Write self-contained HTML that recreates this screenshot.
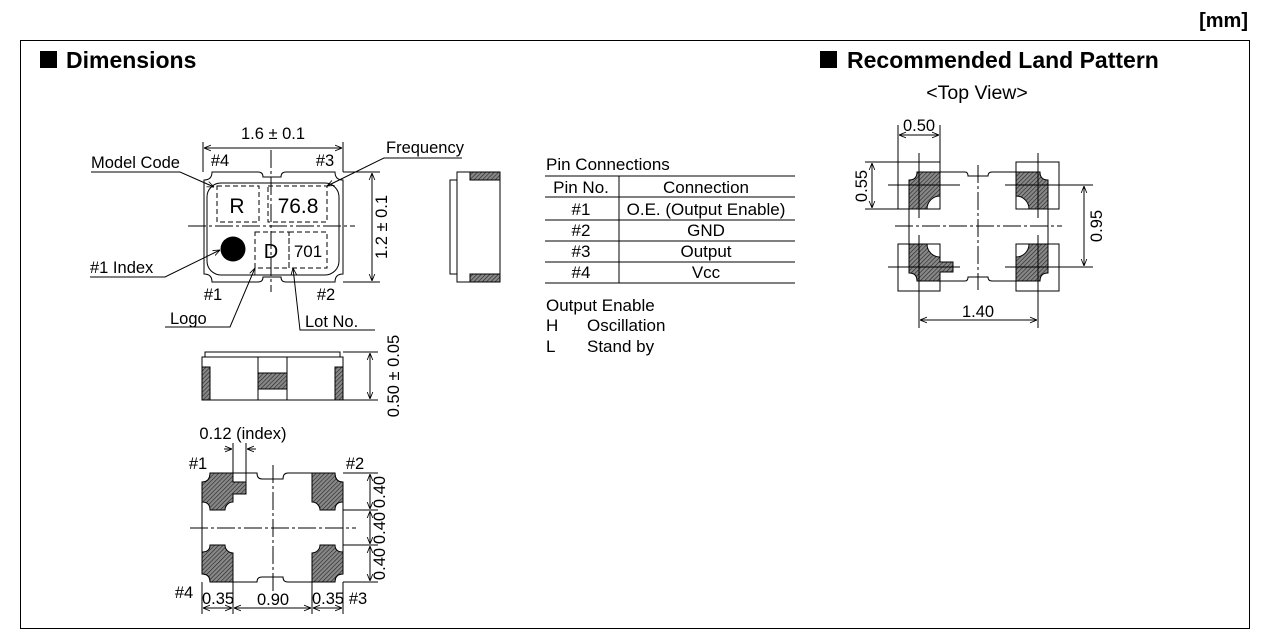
<!DOCTYPE html>
<html><head><meta charset="utf-8"><style>
html,body{margin:0;padding:0;background:#fff;}
svg{display:block;font-family:"Liberation Sans",sans-serif;}
</style></head><body>
<svg width="1266" height="642" viewBox="0 0 1266 642" xmlns="http://www.w3.org/2000/svg">
<defs>
<pattern id="h" width="3" height="3" patternUnits="userSpaceOnUse" patternTransform="rotate(45)">
<rect width="3" height="3" fill="#888"/><line x1="0" y1="0" x2="0" y2="3" stroke="#222" stroke-width="1.2"/>
</pattern>
<marker id="a" viewBox="0 0 10 10" refX="10" refY="5" markerWidth="7" markerHeight="7" orient="auto-start-reverse"><path d="M0,1 L10,5 L0,9" fill="none" stroke="#000" stroke-width="1.2"/></marker>
</defs>
<rect x="0" y="0" width="1266" height="642" fill="#fff"/>
<text x="1248" y="27" font-size="20" font-weight="bold" text-anchor="end">[mm]</text>
<rect x="20.5" y="40.5" width="1229" height="588" fill="none" stroke="#000" stroke-width="1"/>
<rect x="40" y="51" width="17" height="17" fill="#000"/>
<text x="66" y="68" font-size="23" font-weight="bold">Dimensions</text>
<rect x="820" y="51" width="17" height="17" fill="#000"/>
<text x="847" y="68" font-size="23" font-weight="bold">Recommended Land Pattern</text>
<text x="977" y="99" font-size="19.5" text-anchor="middle">&lt;Top View&gt;</text>

<g stroke="#000" stroke-width="1" fill="none">
<path d="M212,172 L258,172 Q263,172 263,177 L281,177 Q281,172 286,172 L335,172 Q335,180 343,180 L343,274 Q335,274 335,282 L286,282 Q281,282 281,277 L263,277 Q263,282 258,282 L212,282 Q212,274 204,274 L204,180 Q212,180 212,172 Z"/>
<rect x="207" y="183" width="132" height="92" rx="14"/>
<g stroke-dasharray="5,3">
<rect x="217" y="186" width="42" height="36"/>
<rect x="268" y="186" width="59" height="36"/>
<rect x="255" y="232" width="34" height="36"/>
<rect x="289" y="232" width="38" height="36"/>
</g>
<g stroke-dasharray="18,3,3,3">
<line x1="271" y1="150" x2="271" y2="292"/>
<line x1="188" y1="226" x2="355" y2="226"/>
</g>
<line x1="203" y1="142" x2="203" y2="172"/><line x1="343" y1="142" x2="343" y2="172"/>
<line x1="204" y1="148" x2="342" y2="148" marker-start="url(#a)" marker-end="url(#a)"/>
<line x1="343" y1="172" x2="380" y2="172"/><line x1="343" y1="282" x2="380" y2="282"/>
<line x1="372" y1="173" x2="372" y2="281" marker-start="url(#a)" marker-end="url(#a)"/>
<polyline points="91,172 180,172 214,187" marker-end="url(#a)"/>
<polyline points="462,158 384,158 327,186" marker-end="url(#a)"/>
<polyline points="90,277 165,277 220,250" marker-end="url(#a)"/>
<polyline points="165,327 230,327 255,268" marker-end="url(#a)"/>
<polyline points="375,330 300,330 293,268" marker-end="url(#a)"/>
</g>
<circle cx="233" cy="249" r="12.5" fill="#000"/>
<g font-size="21">
<text x="237" y="213" text-anchor="middle">R</text>
<text x="298" y="213" text-anchor="middle">76.8</text>
<text x="271" y="258" text-anchor="middle" font-size="20">D</text>
<text x="308" y="257" text-anchor="middle" font-size="17">701</text>
</g>
<g font-size="16.5">
<text x="273" y="139" text-anchor="middle">1.6 ± 0.1</text>
<text x="220" y="166" text-anchor="middle">#4</text>
<text x="325" y="166" text-anchor="middle">#3</text>
<text x="213" y="300" text-anchor="middle">#1</text>
<text x="326" y="300" text-anchor="middle">#2</text>
<text x="91" y="168">Model Code</text>
<text x="386" y="153">Frequency</text>
<text x="90" y="273">#1 Index</text>
<text x="170" y="324">Logo</text>
<text x="305" y="327">Lot No.</text>
<text transform="translate(387,227) rotate(-90)" text-anchor="middle">1.2 ± 0.1</text>
</g>

<g stroke="#000" stroke-width="1" fill="none">
<rect x="457" y="172" width="43" height="110"/>
<rect x="450" y="180" width="7" height="94"/>
<rect x="470" y="172" width="30" height="8" fill="url(#h)"/>
<rect x="470" y="274" width="30" height="8" fill="url(#h)"/>
</g>

<g font-size="17">
<text x="546" y="170">Pin Connections</text>
<text x="581" y="193" text-anchor="middle">Pin No.</text>
<text x="706" y="193" text-anchor="middle">Connection</text>
<text x="581" y="215" text-anchor="middle">#1</text><text x="706" y="215" text-anchor="middle">O.E. (Output Enable)</text>
<text x="581" y="236" text-anchor="middle">#2</text><text x="706" y="236" text-anchor="middle">GND</text>
<text x="581" y="257" text-anchor="middle">#3</text><text x="706" y="257" text-anchor="middle">Output</text>
<text x="581" y="278" text-anchor="middle">#4</text><text x="706" y="278" text-anchor="middle">Vcc</text>
<text x="546" y="311">Output Enable</text>
<text x="546" y="331">H</text><text x="587" y="331">Oscillation</text>
<text x="546" y="352">L</text><text x="587" y="352">Stand by</text>
</g>
<g stroke="#000" stroke-width="1">
<line x1="545" y1="176" x2="795" y2="176"/>
<line x1="545" y1="197" x2="795" y2="197"/>
<line x1="545" y1="220" x2="795" y2="220"/>
<line x1="545" y1="241" x2="795" y2="241"/>
<line x1="545" y1="262" x2="795" y2="262"/>
<line x1="545" y1="283" x2="795" y2="283"/>
<line x1="619" y1="176" x2="619" y2="283"/>
</g>

<g stroke="#000" stroke-width="1" fill="none">
<polyline points="205,357 205,352 340,352 340,357"/>
<rect x="202" y="357" width="141" height="43"/>
<rect x="202" y="367" width="8" height="33" fill="url(#h)"/>
<rect x="335" y="367" width="8" height="33" fill="url(#h)"/>
<line x1="258" y1="357" x2="258" y2="400"/><line x1="287" y1="357" x2="287" y2="400"/>
<rect x="258" y="373" width="29" height="16" fill="url(#h)"/>
<line x1="343" y1="352" x2="378" y2="352"/><line x1="343" y1="400" x2="378" y2="400"/>
<line x1="370" y1="353" x2="370" y2="399" marker-start="url(#a)" marker-end="url(#a)"/>
</g>
<text transform="translate(399,376) rotate(-90)" text-anchor="middle" font-size="16.5">0.50 ± 0.05</text>

<g stroke="#000" stroke-width="1">
<path d="M202,482 L202,574 Q210,574 210,582 L257,582 Q257,577 262,577 L283,577 Q283,582 288,582 L335,582 Q335,574 343,574 L343,482 Q335,482 335,473 L288,473 Q283,473 283,479 L262,479 Q257,479 257,473 L210,473 Q210,482 202,482 Z" fill="none"/>
<path d="M202,482 Q210,482 210,473 L233,473 L233,482 L246,482 L246,494 L233,494 L233,502 A8,8 0 0 0 225,510 L210,510 Q210,502 202,502 Z" fill="url(#h)"/>
<path d="M312,473 L335,473 Q335,482 343,482 L343,502 Q335,502 335,510 L320,510 A8,8 0 0 0 312,502 Z" fill="url(#h)"/>
<path d="M202,552 Q210,552 210,545 L225,545 A8,8 0 0 0 233,553 L233,582 L210,582 Q210,574 202,574 Z" fill="url(#h)"/>
<path d="M312,553 A8,8 0 0 0 320,545 L335,545 Q335,552 343,552 L343,574 Q335,574 335,582 L312,582 Z" fill="url(#h)"/>
</g>
<g stroke="#000" stroke-width="1" fill="none">
<g stroke-dasharray="18,3,3,3">
<line x1="273" y1="465" x2="273" y2="592"/>
<line x1="190" y1="528" x2="356" y2="528"/>
</g>
<line x1="233" y1="443" x2="233" y2="473"/><line x1="246" y1="443" x2="246" y2="482"/>
<line x1="224" y1="449" x2="232" y2="449" marker-end="url(#a)"/><line x1="256" y1="449" x2="247" y2="449" marker-end="url(#a)"/>
<line x1="343" y1="473" x2="378" y2="473"/><line x1="343" y1="510" x2="378" y2="510"/>
<line x1="343" y1="545" x2="378" y2="545"/><line x1="343" y1="582" x2="378" y2="582"/>
<line x1="370" y1="474" x2="370" y2="509" marker-start="url(#a)" marker-end="url(#a)"/>
<line x1="370" y1="511" x2="370" y2="544" marker-start="url(#a)" marker-end="url(#a)"/>
<line x1="370" y1="546" x2="370" y2="581" marker-start="url(#a)" marker-end="url(#a)"/>
<line x1="202" y1="582" x2="202" y2="614"/><line x1="233" y1="582" x2="233" y2="614"/>
<line x1="312" y1="582" x2="312" y2="614"/><line x1="343" y1="582" x2="343" y2="614"/>
<line x1="203" y1="608" x2="232" y2="608" marker-start="url(#a)" marker-end="url(#a)"/>
<line x1="234" y1="608" x2="311" y2="608" marker-start="url(#a)" marker-end="url(#a)"/>
<line x1="313" y1="608" x2="342" y2="608" marker-start="url(#a)" marker-end="url(#a)"/>
</g>
<g font-size="16.5">
<text x="243" y="439" text-anchor="middle">0.12 (index)</text>
<text x="198" y="469" text-anchor="middle">#1</text>
<text x="355" y="469" text-anchor="middle">#2</text>
<text x="184" y="598" text-anchor="middle">#4</text>
<text x="358" y="604" text-anchor="middle">#3</text>
<text x="218" y="604" text-anchor="middle">0.35</text>
<text x="273" y="605" text-anchor="middle">0.90</text>
<text x="328" y="604" text-anchor="middle">0.35</text>
<text transform="translate(385,492) rotate(-90)" text-anchor="middle">0.40</text>
<text transform="translate(385,528) rotate(-90)" text-anchor="middle">0.40</text>
<text transform="translate(385,564) rotate(-90)" text-anchor="middle">0.40</text>
</g>

<g stroke="#000" stroke-width="1" fill="none">
<path d="M940,172 L965,172 Q968,172 968,176 L988,176 Q988,172 992,172 L1016,172 M1016,281 L992,281 Q988,281 988,277 L968,277 Q968,281 965,281 L940,281 M909,209 L909,244 M1048,209 L1048,244"/>
<rect x="898" y="162" width="42" height="47"/>
<rect x="1016" y="162" width="43" height="47"/>
<rect x="898" y="244" width="42" height="47"/>
<rect x="1016" y="244" width="43" height="47"/>
<path d="M909,180 Q917,180 917,172 L940,172 L940,196 A13,13 0 0 0 927,209 L909,209 Z" fill="url(#h)"/>
<path d="M1016,172 L1040,172 Q1040,180 1048,180 L1048,209 L1029,209 A13,13 0 0 0 1016,196 Z" fill="url(#h)"/>
<path d="M909,244 L927,244 A13,13 0 0 0 940,257 L940,262 L953,262 L953,272 L940,272 L940,281 L917,281 Q917,273 909,273 Z" fill="url(#h)"/>
<path d="M1016,257 A13,13 0 0 0 1029,244 L1048,244 L1048,273 Q1040,273 1040,281 L1016,281 Z" fill="url(#h)"/>
<g stroke-dasharray="18,3,3,3">
<line x1="978" y1="165" x2="978" y2="290"/>
<line x1="895" y1="226" x2="1062" y2="226"/>
</g>
<line x1="919" y1="153" x2="919" y2="218"/><line x1="1038" y1="153" x2="1038" y2="218"/>
<line x1="919" y1="235" x2="919" y2="328"/><line x1="1038" y1="235" x2="1038" y2="328"/>
<line x1="888" y1="185" x2="960" y2="185"/><line x1="1005" y1="185" x2="1093" y2="185"/>
<line x1="888" y1="267" x2="960" y2="267"/><line x1="1005" y1="267" x2="1093" y2="267"/>
<line x1="898" y1="125" x2="898" y2="162"/><line x1="940" y1="125" x2="940" y2="162"/>
<line x1="899" y1="135" x2="939" y2="135" marker-start="url(#a)" marker-end="url(#a)"/>
<line x1="865" y1="162" x2="898" y2="162"/><line x1="865" y1="209" x2="898" y2="209"/>
<line x1="872" y1="163" x2="872" y2="208" marker-start="url(#a)" marker-end="url(#a)"/>
<line x1="1084" y1="186" x2="1084" y2="266" marker-start="url(#a)" marker-end="url(#a)"/>
<line x1="920" y1="320" x2="1037" y2="320" marker-start="url(#a)" marker-end="url(#a)"/>
</g>
<g font-size="16.5">
<text x="919" y="131" text-anchor="middle">0.50</text>
<text transform="translate(867,186) rotate(-90)" text-anchor="middle">0.55</text>
<text transform="translate(1102,226) rotate(-90)" text-anchor="middle">0.95</text>
<text x="978" y="317" text-anchor="middle">1.40</text>
</g>
</svg>
</body></html>
